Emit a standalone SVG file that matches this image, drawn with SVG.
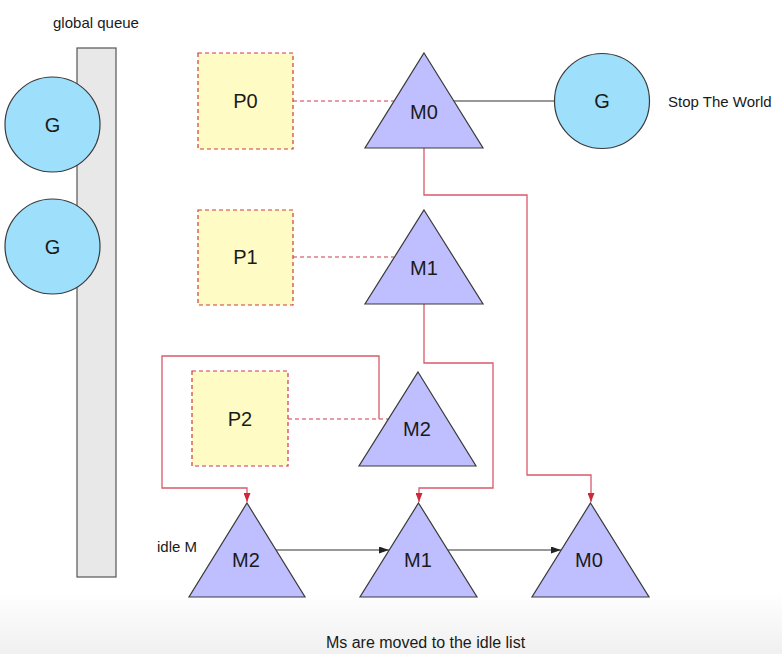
<svg xmlns="http://www.w3.org/2000/svg" width="782" height="654" viewBox="0 0 782 654">
<style>
text{font-family:"Liberation Sans",Arial,Helvetica,sans-serif;fill:#1a1a1a}
.lbl{font-size:20px;text-anchor:middle}
.sm{font-size:15px}
.g{fill:#9edffc;stroke:#3a3a3a;stroke-width:1.2}
.p{fill:#fffbc4;stroke:#d0384a;stroke-width:1.2;stroke-dasharray:4 3}
.m{fill:#bfbfff;stroke:#3a3a3a;stroke-width:1.2;stroke-linejoin:miter}
.dash{stroke:#d0384a;stroke-width:1.2;stroke-dasharray:4 3;fill:none}
.red{stroke:#d9596b;stroke-width:1.3;fill:none}
.blk{stroke:#333;stroke-width:1.2;fill:none}
</style>
<defs>
<linearGradient id="bg" x1="0" y1="0" x2="0" y2="1">
<stop offset="0" stop-color="#ffffff"/>
<stop offset="1" stop-color="#f0f0f0"/>
</linearGradient>
<marker id="ar" viewBox="0 0 9 7" refX="9" refY="3.5" markerWidth="9" markerHeight="7" markerUnits="userSpaceOnUse" orient="auto">
<path d="M0,0 L9,3.5 L0,7 z" fill="#cc2a3c"/>
</marker>
<marker id="ab" viewBox="0 0 10 7" refX="10" refY="3.5" markerWidth="10" markerHeight="7" markerUnits="userSpaceOnUse" orient="auto">
<path d="M0,0 L10,3.5 L0,7 z" fill="#222"/>
</marker>
</defs>
<rect x="0" y="0" width="782" height="654" fill="#ffffff"/>
<rect x="0" y="592" width="782" height="62" fill="url(#bg)"/>

<g id="global-queue">
<rect x="77" y="48" width="39" height="529" fill="#e8e8e8" stroke="#555" stroke-width="1.2"/>
<text class="sm" x="96" y="28" text-anchor="middle">global queue</text>
</g>

<g id="connectors">
<line class="dash" x1="293" y1="101" x2="394" y2="101"/>
<line class="dash" x1="293" y1="257" x2="394" y2="257"/>
<line class="dash" x1="288" y1="419" x2="388" y2="419"/>
<line class="blk" x1="454" y1="101" x2="555" y2="101"/>
<path class="red" d="M424,148 V195 H527 V475 H591 V502" marker-end="url(#ar)"/>
<path class="red" d="M424,304 V363 H493 V488 H419 V502" marker-end="url(#ar)"/>
<path class="red" d="M379,419 V356 H162 V488 H247 V502" marker-end="url(#ar)"/>
<line class="blk" x1="276" y1="550" x2="389" y2="550" marker-end="url(#ab)"/>
<line class="blk" x1="447" y1="550" x2="561" y2="550" marker-end="url(#ab)"/>
</g>

<g id="g1"><circle class="g" cx="52.5" cy="124.5" r="47.5"/><text class="lbl" x="52.5" y="132">G</text></g>
<g id="g2"><circle class="g" cx="52.5" cy="246.5" r="47.5"/><text class="lbl" x="52.5" y="254">G</text></g>

<g id="p0"><rect class="p" x="198" y="53" width="95" height="96"/><text class="lbl" x="245.5" y="108">P0</text></g>
<g id="p1"><rect class="p" x="198" y="210" width="95" height="95"/><text class="lbl" x="245.5" y="264">P1</text></g>
<g id="p2"><rect class="p" x="192" y="371" width="96" height="95"/><text class="lbl" x="240" y="426">P2</text></g>

<g id="m0"><polygon class="m" points="424,53 483,148 365,148"/><text class="lbl" x="424" y="119">M0</text></g>
<g id="m1"><polygon class="m" points="424,210 483,304 365,304"/><text class="lbl" x="424" y="275">M1</text></g>
<g id="m2"><polygon class="m" points="418,372 476,466 359,466"/><text class="lbl" x="417" y="436">M2</text></g>

<g id="g-stw"><circle class="g" cx="602" cy="101" r="47.5"/><text class="lbl" x="602" y="108">G</text></g>
<g id="stw-label"><text class="sm" x="668" y="107">Stop The World</text></g>

<g id="idle-label"><text class="sm" x="157" y="552">idle M</text></g>
<g id="idle-m2"><polygon class="m" points="247,503 305,597 189,597"/><text class="lbl" x="246" y="567">M2</text></g>
<g id="idle-m1"><polygon class="m" points="418.5,503 477,597 360,597"/><text class="lbl" x="418" y="567">M1</text></g>
<g id="idle-m0"><polygon class="m" points="590.5,503 649,597 532,597"/><text class="lbl" x="589" y="567">M0</text></g>

<g id="caption"><text x="425.5" y="648" font-size="16" text-anchor="middle">Ms are moved to the idle list</text></g>
</svg>
